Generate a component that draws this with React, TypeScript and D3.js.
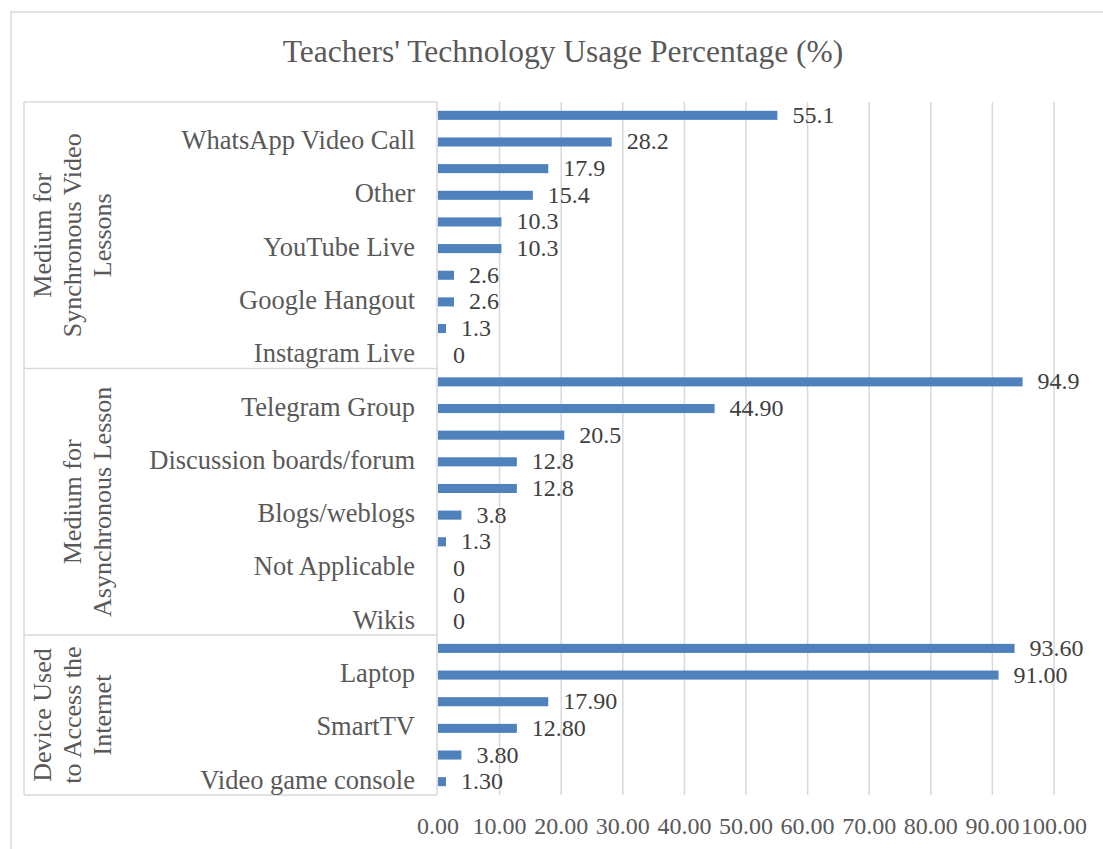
import React, { useRef, useEffect } from "react";
import { select, scaleLinear, scaleBand, range } from "d3";

// data
const groupNames = [
  ["Medium for", "Synchronous Video", "Lessons"],
  ["Medium for", "Asynchronous Lesson"],
  ["Device Used", "to Access the", "Internet"],
];

const syncNames = ["Zoom", "WhatsApp Video Call", "Google Meet", "Other ", "Microsoft Teams", "YouTube Live", "Skype", "Google Hangout", "Facebook Live", "Instagram Live"];
const syncValues = [55.1, 28.2, 17.9, 15.4, 10.3, 10.3, 2.6, 2.6, 1.3, 0];
const syncLabels = ["55.1", "28.2", "17.9", "15.4", "10.3", "10.3", "2.6", "2.6", "1.3", "0"];

const asyncNames = ["WhatsApp Group", "Telegram Group", "Google Classroom", "Discussion boards/forum", "Email", "Blogs/weblogs", "Edmodo", "Not Applicable", "Moodle", "Wikis"];
const asyncValues = [94.9, 44.9, 20.5, 12.8, 12.8, 3.8, 1.3, 0, 0, 0];
const asyncLabels = ["94.9", "44.90", "20.5", "12.8", "12.8", "3.8", "1.3", "0", "0", "0"];

const deviceNames = ["Smartphone", "Laptop", "Desktop", "SmartTV", "Tablet", "Video game console"];
const deviceValues = [93.6, 91.0, 17.9, 12.8, 3.8, 1.3];
const deviceLabels = ["93.60", "91.00", "17.90", "12.80", "3.80", "1.30"];

const xTicks = [0, 10, 20, 30, 40, 50, 60, 70, 80, 90, 100];

const W = 1103, H = 849;
const FONT = "'Liberation Serif', 'Times New Roman', serif";
const GREY = "#d9d9d9";

export default function App() {
  const svgRef = useRef<SVGSVGElement>(null);

  useEffect(() => {
    const svg = select(svgRef.current);
    svg.selectAll("*").remove();

    const groups = [
      { names: syncNames, values: syncValues, labels: syncLabels },
      { names: asyncNames, values: asyncValues, labels: asyncLabels },
      { names: deviceNames, values: deviceValues, labels: deviceLabels },
    ];
    // flatten into rows
    const rows: any[] = [];
    groups.forEach((g, gi) => {
      g.names.forEach((n, i) => rows.push({ group: gi, idx: i, name: n, value: g.values[i], label: g.labels[i] }));
    });

    const top = 102, bottom = 795, left = 438, right = 1054;
    const x = scaleLinear().domain([0, 100]).range([left, right]);
    const y = scaleBand<number>()
      .domain(range(rows.length))
      .range([top, bottom])
      .paddingInner(0.66)
      .paddingOuter(0.33);

    // outer chart border
    svg.append("rect")
      .attr("x", 11).attr("y", 12).attr("width", W).attr("height", H)
      .attr("fill", "none").attr("stroke", GREY).attr("stroke-width", 1.5);

    svg.append("text")
      .attr("x", 563).attr("y", 62)
      .attr("text-anchor", "middle")
      .attr("font-family", FONT).attr("font-size", 31.5)
      .attr("fill", "#595959")
      .text("Teachers' Technology Usage Percentage (%)");

    // gridlines
    svg.append("g").selectAll("line")
      .data(xTicks.slice(1))
      .join("line")
      .attr("x1", d => x(d)).attr("x2", d => x(d))
      .attr("y1", top).attr("y2", bottom)
      .attr("stroke", GREY).attr("stroke-width", 1.5);

    // category axis box
    const step = y.step();
    let start = 0;
    const bounds = [top];
    groups.forEach(g => { start += g.names.length; bounds.push(top + start * step); });
    const ax = svg.append("g");
    ax.selectAll("line.h")
      .data(bounds)
      .join("line")
      .attr("x1", 24).attr("x2", left - 1)
      .attr("y1", d => d).attr("y2", d => d)
      .attr("stroke", GREY).attr("stroke-width", 1.5);
    ax.append("line").attr("x1", 24).attr("x2", 24).attr("y1", top).attr("y2", bottom)
      .attr("stroke", GREY).attr("stroke-width", 1.5);
    ax.append("line").attr("x1", left - 1).attr("x2", left - 1).attr("y1", top).attr("y2", bottom)
      .attr("stroke", GREY).attr("stroke-width", 1.5);

    // group labels (rotated)
    groupNames.forEach((lines, gi) => {
      const cy = (bounds[gi] + bounds[gi + 1]) / 2;
      const n = lines.length;
      lines.forEach((line, li) => {
        const cx = 102 - (n - 1 - li) * 30;
        svg.append("text")
          .attr("transform", `translate(${cx + 9},${cy}) rotate(-90)`)
          .attr("text-anchor", "middle")
          .attr("font-family", FONT).attr("font-size", 26)
          .attr("fill", "#595959")
          .text(line);
      });
    });

    // category labels, every other one like Excel
    svg.append("g").selectAll("text")
      .data(rows.filter(r => r.idx % 2 === 1))
      .join("text")
      .attr("x", 415)
      .attr("y", d => y(rows.indexOf(d))! + y.bandwidth() / 2 + 7)
      .attr("text-anchor", "end")
      .attr("font-family", FONT).attr("font-size", 26.5)
      .attr("fill", "#595959")
      .text(d => d.name);

    // bars
    svg.append("g").selectAll("rect")
      .data(rows)
      .join("rect")
      .attr("x", x(0))
      .attr("y", (d, i) => y(i)!)
      .attr("width", d => x(d.value) - x(0))
      .attr("height", y.bandwidth())
      .attr("fill", "#4f81bd");

    // value labels
    svg.append("g").selectAll("text")
      .data(rows)
      .join("text")
      .attr("x", d => x(d.value) + 15)
      .attr("y", (d, i) => y(i)! + y.bandwidth() / 2 + 7.5)
      .attr("font-family", FONT).attr("font-size", 24)
      .attr("fill", "#404040")
      .text(d => d.label);

    // x tick labels
    svg.append("g").selectAll("text")
      .data(xTicks)
      .join("text")
      .attr("x", d => x(d))
      .attr("y", 834)
      .attr("text-anchor", "middle")
      .attr("font-family", FONT).attr("font-size", 24)
      .attr("fill", "#595959")
      .text(d => d.toFixed(2));
  }, []);

  return (
    <svg ref={svgRef} width={W} height={H}
      style={{ position: "absolute", left: 0, top: 0, background: "#fff" }} />
  );
}
